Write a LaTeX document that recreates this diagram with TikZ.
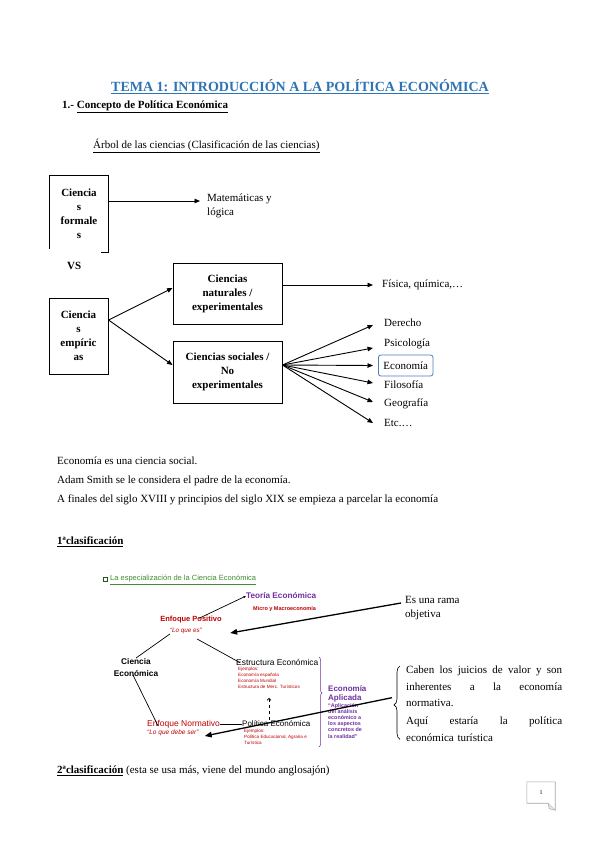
\documentclass[tikz,border=0pt]{standalone}
\usepackage{fontspec}
\setmainfont{Liberation Serif}
\newfontfamily\arialf{Liberation Sans}
\usetikzlibrary{arrows.meta,calc,decorations.pathreplacing}
\definecolor{titleblue}{RGB}{46,116,181}
\definecolor{boxblue}{RGB}{74,126,187}
\definecolor{dred}{RGB}{192,0,0}
\definecolor{purp}{RGB}{112,48,160}
\definecolor{grn}{RGB}{64,140,50}
\newcommand{\jline}[1]{\leavevmode\hbox to 156pt{#1}}
\begin{document}
\begin{tikzpicture}[x=1pt,y=-1pt,
  txt/.style={inner sep=0pt, anchor=west, font=\fontsize{11}{13}\selectfont},
  blk/.style={inner sep=0pt, anchor=north west, align=left},
  sbox/.style={draw, line width=1pt, inner sep=0pt, align=center, font=\bfseries\fontsize{11}{14}\selectfont},
  arr/.style={line width=0.9pt, -{Triangle[length=5.5pt,width=4.5pt]}},
  bigarr/.style={line width=1.3pt, -{Triangle[length=7pt,width=5.5pt]}},
  thinl/.style={line width=0.7pt},
  asf/.style={inner sep=0pt, anchor=west, font=\arialf\fontsize{8}{9}\selectfont}
]
\fill[white] (0,0) rectangle (599,848);
\useasboundingbox (0,0) rectangle (599,848);

% headings
\node[inner sep=0pt, font=\bfseries\fontsize{14}{16}\selectfont, text=titleblue] (title) at (300,87)
  {\underline{TEMA 1: INTRODUCCIÓN A LA POLÍTICA ECONÓMICA}};
\node[txt, font=\bfseries\fontsize{11}{13}\selectfont] (sec) at (62,107) {1.-~\underline{Concepto de Política Económica}};
\node[txt] (arb) at (93,146) {\underline{Árbol de las ciencias (Clasificación de las ciencias)}};

% tree of sciences
\node[sbox, draw=none, minimum width=58pt, minimum height=76pt] (cf) at (79,214) {Ciencia\\s\\formale\\s};
\draw[line width=1pt] ($(cf.south west)+(0,-4)$) -- (cf.north west) -- (cf.north east) -- (cf.south east) -- ($(cf.south east)+(-8,0)$);
\node[blk, font=\fontsize{11}{14}\selectfont] (mat) at (207,194) {Matemáticas y\\lógica};
\draw[arr] ($(cf.east)+(0,-13)$) -- ($(mat.north west)+(-7,7)$);

\node[txt, font=\bfseries\fontsize{11}{13}\selectfont] (vs) at (67,266) {VS};

\node[sbox, minimum width=59pt, minimum height=76pt] (emp) at (78.5,336) {Ciencia\\s\\empíric\\as};
\node[sbox, minimum width=109pt, minimum height=61pt] (nat) at (227.5,293.5) {Ciencias\\naturales /\\experimentales};
\node[sbox, minimum width=109pt, minimum height=62pt] (soc) at (227.5,372) {Ciencias sociales /\\No\\experimentales};
\draw[arr] ($(emp.east)+(0,-16)$) -- ($(nat.west)+(0,-5.5)$);
\draw[arr] ($(emp.east)+(0,-16)$) -- ($(soc.west)+(0,-7)$);

\node[txt] (fis) at (382,285) {Física, química,…};
\draw[arr] ($(nat.east)+(0,-8.5)$) -- ($(fis.west)+(-9,0)$);

\node[txt] (der) at (384,323) {Derecho};
\node[txt] (psi) at (384,344) {Psicología};
\node[txt, draw=boxblue, line width=0.8pt, rounded corners=2.5pt, inner xsep=5pt, minimum height=21pt] (eco) at (378,365.5) {Economía};
\node[txt] (fil) at (384,385) {Filosofía};
\node[txt] (geo) at (384,404) {Geografía};
\node[txt] (etc) at (384,423) {Etc.…};
\coordinate (fan) at ($(soc.east)+(0,-7)$);
\draw[arr] (fan) -- ($(der.west)+(-11,2)$);
\draw[arr] (fan) -- ($(psi.west)+(-11,4)$);
\draw[arr] (fan) -- ($(eco.west)+(-5,0)$);
\draw[arr] (fan) -- ($(fil.west)+(-11,-2)$);
\draw[arr] (fan) -- ($(geo.west)+(-11,-2)$);
\draw[arr] (fan) -- ($(etc.west)+(-11,0)$);

% paragraph
\node[txt] (p1) at (57,461) {Economía es una ciencia social.};
\node[txt] (p2) at (57,481) {Adam Smith se le considera el padre de la economía.};
\node[txt] (p3) at (57,500) {A finales del siglo XVIII y principios del siglo XIX se empieza a parcelar la economía};
\node[txt, font=\bfseries\fontsize{11}{13}\selectfont] (c1) at (57,542) {\underline{1ªclasificación}};

% embedded scheme
\node[asf, font=\arialf\fontsize{7.5}{9}\selectfont, text=grn] (hd) at (110,580) {\underline{La especialización de la Ciencia Económica}};
\node[draw=grn!60!black, line width=0.6pt, minimum size=4pt, inner sep=0pt, anchor=east] (bul) at ($(hd.west)+(-2.5,-0.5)$) {};

\node[asf, font=\arialf\bfseries\fontsize{8.2}{9}\selectfont, text=purp] (teo) at (246,596) {Teoría Económica};
\node[asf, font=\arialf\bfseries\fontsize{5.5}{6}\selectfont, text=dred] (mic) at (253,609) {Micro y Macroeconomía};
\node[inner sep=0pt, font=\arialf\bfseries\fontsize{7.5}{9}\selectfont, text=dred] (ep) at (191,620) {Enfoque Positivo};
\node[inner sep=0pt, font=\arialf\itshape\fontsize{6.3}{8}\selectfont, text=dred] (lqe) at (186,631) {“Lo que es”};
\node[inner sep=0pt, align=center, font=\arialf\bfseries\fontsize{8.3}{12.5}\selectfont] (ce) at (136,667.5) {Ciencia\\Económica};
\node[asf, font=\arialf\fontsize{8.4}{9}\selectfont] (est) at (236,662) {Estructura Económica};
\node[blk, font=\arialf\fontsize{4.6}{6}\selectfont, text=dred] (rl1) at (238,667) {Ejemplos:\\Economía española\\Economía Mundial\\Estructura de Merc. Turísticos};
\node[asf, font=\arialf\fontsize{8.5}{9}\selectfont, text=dred] (en) at (147,724) {Enfoque Normativo};
\node[asf, font=\arialf\itshape\fontsize{6.5}{8}\selectfont, text=dred] (lqds) at (147,733) {“Lo que debe ser”};
\node[asf] (pe) at (242,724) {Política Económica};
\node[blk, font=\arialf\fontsize{4.6}{6}\selectfont, text=dred] (rl2) at (244,729) {Ejemplos:\\Política Educacional, Agraria e\\Turística};
\node[blk, font=\arialf\bfseries\fontsize{8}{9}\selectfont, text=purp] (ea) at (328,685) {Economía\\Aplicada};
\node[blk, font=\arialf\bfseries\fontsize{5.4}{6.2}\selectfont, text=purp] (eat) at (328,703) {“Aplicación\\del análisis\\económico a\\los aspectos\\concretos de\\la realidad”};

\draw[purp, line width=0.5pt, decorate, decoration={brace, amplitude=3pt, aspect=0.4}] (319,657) -- (319,747);

\draw[thinl] (ce.north) -- (lqe.south west);
\draw[thinl, -{Triangle[length=2.5pt,width=2pt]}] ($(ep.north)+(8,2)$) -- (teo.west);
\draw[thinl] ($(lqe.south east)+(-5,5)$) -- ($(est.north west)+(4,4)$);
\draw[thinl] ($(ce.south)+(-3,-2)$) -- ($(en.north west)+(11,6)$);
\draw[thinl] (en.east) -- (pe.west);
\draw[thinl, dashed, -{Straight Barb[length=2pt]}] ($(pe.north west)+(27,-1)$) -- ($(rl1.south west)+(31,9)$);

% side notes
\node[blk, font=\fontsize{11}{14}\selectfont] (esr) at (405,596) {Es una rama\\objetiva};
\draw[bigarr] ($(esr.north west)+(-4,7)$) -- ($(lqe.east)+(28,2)$);

\node[blk, text width=156pt, font=\fontsize{11}{16.3}\selectfont] (cab) at (406,666)
 {\jline{Caben\hfill los\hfill juicios\hfill de\hfill valor\hfill y\hfill son}\\
  \jline{inherentes\hfill a\hfill la\hfill economía}\\
  normativa.\\[2pt]
  \jline{Aquí\hfill estaría\hfill la\hfill política}\\
  económica turística};
\draw[line width=0.6pt, decorate, decoration={brace, amplitude=6pt, aspect=0.47}] ($(cab.south west)+(-6,-2)$) -- ($(cab.north west)+(-6,0)$);
\draw[bigarr] ($(cab.west)+(-14,-6)$) -- ($(lqds.east)+(6,3)$);

\node[txt] (c2) at (57,771) {\textbf{\underline{2ªclasificación}} (esta se usa más, viene del mundo anglosajón)};

% page number
\node[inner sep=0pt, minimum width=28pt, minimum height=21pt, font=\fontsize{6}{7}\selectfont] (pg) at (541,792.5) {1};
\draw[gray!70, line width=0.6pt] (pg.north west) -- (pg.north east) -- ($(pg.south east)+(0,7)$) -- ($(pg.south east)+(-7,0)$) -- (pg.south west) -- cycle;
\draw[gray!70, fill=gray!20, line width=0.5pt] ($(pg.south east)+(0,7)$) -- ($(pg.south east)+(-6,5.5)$) -- ($(pg.south east)+(-7,0)$);
\end{tikzpicture}
\end{document}
